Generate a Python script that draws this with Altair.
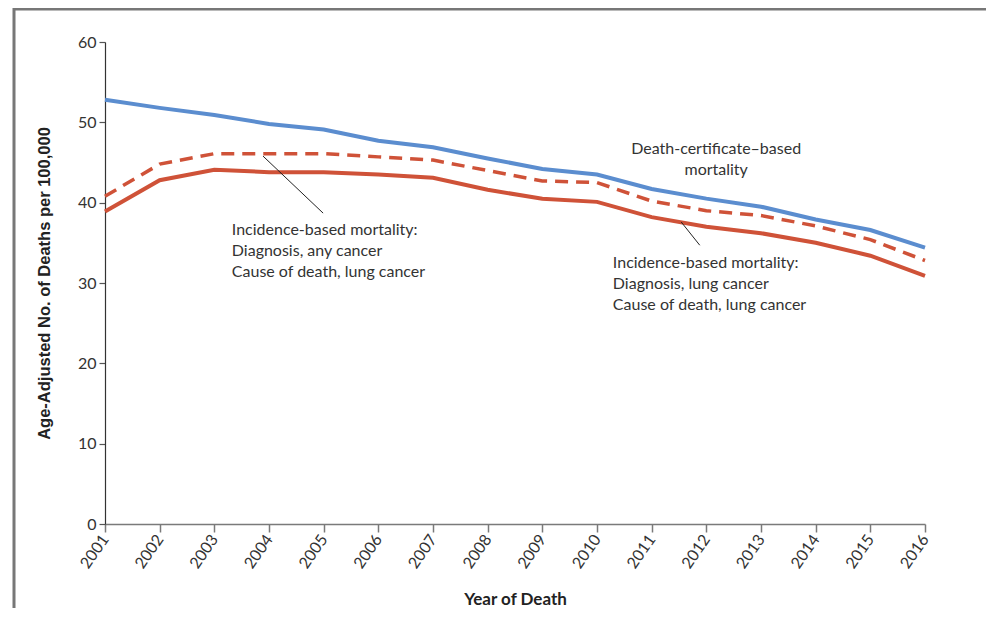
import altair as alt
import pandas as pd

years = list(range(2001, 2017))
death_cert = [52.8, 51.8, 50.9, 49.8, 49.1, 47.7, 46.9, 45.5, 44.2, 43.5, 41.7, 40.5, 39.5, 37.9, 36.6, 34.4]
ibm_any = [40.8, 44.8, 46.1, 46.1, 46.1, 45.7, 45.3, 44.0, 42.7, 42.5, 40.2, 39.0, 38.4, 37.1, 35.4, 32.8]
ibm_lung = [38.9, 42.8, 44.1, 43.8, 43.8, 43.5, 43.1, 41.6, 40.5, 40.1, 38.2, 37.0, 36.2, 35.0, 33.4, 30.9]

y_ticks = [0, 10, 20, 30, 40, 50, 60]

# annotation texts and leader lines (data coordinates)
lbl_x = [2003.32, 2012.18, 2010.29]
lbl_y = [37.6, 47.7, 33.5]
lbl_text = [
    ["Incidence-based mortality:", "Diagnosis, any cancer", "Cause of death, lung cancer"],
    ["Death-certificate\u2013based", "mortality"],
    ["Incidence-based mortality:", "Diagnosis, lung cancer", "Cause of death, lung cancer"],
]
lbl_align = ["left", "center", "left"]
lead_x1 = [2003.89, 2011.54]
lead_y1 = [45.8, 37.6]
lead_x2 = [2004.99, 2011.88]
lead_y2 = [38.7, 34.7]

W, H = 820, 482
PAD_L, PAD_T, PAD_R, PAD_B = 97, 34, 62, 84

df = pd.DataFrame({
    "year": years * 3,
    "value": death_cert + ibm_any + ibm_lung,
    "series": ["dc"] * 16 + ["any"] * 16 + ["lung"] * 16,
})

x_scale = alt.Scale(domain=[2001, 2016], nice=False, zero=False)
y_scale = alt.Scale(domain=[0, 60], nice=False)

x_axis = alt.Axis(
    values=years, format="d", title="Year of Death", grid=False,
    labelAngle=-55, labelAlign="right", labelBaseline="middle", labelPadding=4,
    labelFont="Lato", labelFontSize=16, labelColor="#333333",
    domainColor="#7a7a7a", domainWidth=1.5, tickColor="#7a7a7a", tickSize=8, tickWidth=1.5,
    titleFont="Lato", titleFontSize=17, titleFontWeight="bold", titleColor="#222222",
    titleX=410, titleY=75, titleBaseline="middle", titleAlign="center",
)
y_axis = alt.Axis(
    values=y_ticks, title="Age-Adjusted No. of Deaths per 100,000", grid=False,
    labelFont="Lato", labelFontSize=16, labelColor="#333333", labelPadding=3,
    domainColor="#333333", domainWidth=1.2, tickColor="#555555", tickSize=6, tickWidth=1.2,
    titleFont="Liberation Sans", titleFontSize=16.5, titleFontWeight="bold", titleColor="#222222",
    titleX=-61, titleY=241, titleBaseline="middle", titleAlign="center", titleAngle=-90,
)

base = alt.Chart(df)

line_dc = base.transform_filter(alt.datum.series == "dc").mark_line(
    color="#5b8dcf", strokeWidth=4).encode(
    x=alt.X("year:Q", scale=x_scale, axis=x_axis),
    y=alt.Y("value:Q", scale=y_scale, axis=y_axis),
)
line_any = base.transform_filter(alt.datum.series == "any").mark_line(
    color="#cf5238", strokeWidth=3.5, strokeDash=[13, 8]).encode(
    x=alt.X("year:Q", scale=x_scale), y=alt.Y("value:Q", scale=y_scale),
)
line_lung = base.transform_filter(alt.datum.series == "lung").mark_line(
    color="#cf5238", strokeWidth=4).encode(
    x=alt.X("year:Q", scale=x_scale), y=alt.Y("value:Q", scale=y_scale),
)

lead_df = pd.DataFrame({"x1": lead_x1, "y1": lead_y1, "x2": lead_x2, "y2": lead_y2})
leaders = alt.Chart(lead_df).mark_rule(color="#222222", strokeWidth=1).encode(
    x=alt.X("x1:Q", scale=x_scale), y=alt.Y("y1:Q", scale=y_scale),
    x2="x2:Q", y2="y2:Q",
)

text_layers = []
for tx, ty, tt, ta in zip(lbl_x, lbl_y, lbl_text, lbl_align):
    tdf = pd.DataFrame({"x": [tx], "y": [ty], "t": [tt]})
    text_layers.append(
        alt.Chart(tdf).mark_text(
            font="Lato", fontSize=16, color="#333333", align=ta, baseline="top",
            lineHeight=21,
        ).encode(
            x=alt.X("x:Q", scale=x_scale), y=alt.Y("y:Q", scale=y_scale), text="t:N"
        )
    )

frame_top = alt.Chart(pd.DataFrame({"a": [0]})).mark_rule(color="#777777", strokeWidth=3).encode(
    x=alt.value(-92), x2=alt.value(W + PAD_R - 1), y=alt.value(-33)
)
frame_left = alt.Chart(pd.DataFrame({"a": [0]})).mark_rule(color="#777777", strokeWidth=3).encode(
    x=alt.value(-91), y=alt.value(-34), y2=alt.value(H + PAD_B)
)

chart = alt.layer(
    frame_top, frame_left, line_dc, line_any, line_lung, leaders, *text_layers
).properties(
    width=W, height=H,
    autosize=alt.AutoSizeParams(type="none"),
    padding={"left": PAD_L, "top": PAD_T, "right": PAD_R, "bottom": PAD_B},
).configure_view(stroke=None)

chart.save("out.html", embed_options={"renderer": "svg", "actions": False})
